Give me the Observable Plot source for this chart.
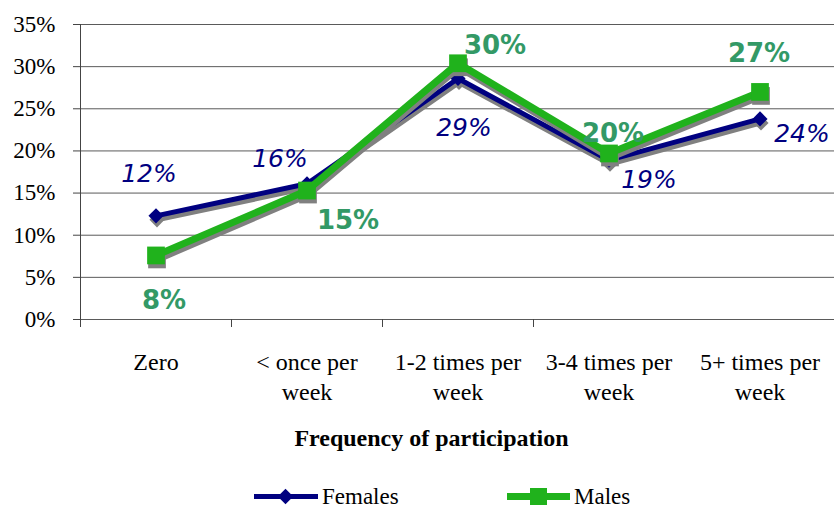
<!DOCTYPE html>
<html>
<head>
<meta charset="utf-8">
<script src="https://cdn.jsdelivr.net/npm/d3@7"></script>
<script src="https://cdn.jsdelivr.net/npm/@observablehq/plot@0.6"></script>
<style>
  body { margin: 0; background: #fff; }
  #chart, #legend { width: 834px; }
  #legend svg { display: block; }
</style>
</head>
<body>
<div id="chart"></div>
<div id="legend"></div>
<script>
// ---- data ----
const categories = ["Zero", "< once per\nweek", "1-2 times per\nweek", "3-4 times per\nweek", "5+ times per\nweek"];
const females = [12.3, 16.1, 28.6, 18.9, 23.8];
const males = [7.6, 15.3, 30.4, 19.7, 27.0];
const femaleLabels = ["12%", "16%", "29%", "19%", "24%"];
const maleLabels = ["8%", "15%", "30%", "20%", "27%"];
const yTicks = [0, 5, 10, 15, 20, 25, 30, 35];
const seriesNames = ["Females", "Males"];
const axisTitle = "Frequency of participation";

// ---- styles / label placement ----
const femaleColor = "#000080";
const maleColor = "#20B21C";
const maleTextColor = "#339966";
const shadow = "#808080";
const femaleLabelOffsets = [[-7, -42], [-27, -25], [6, 50], [40, 20], [42, 15]];
const maleLabelOffsets = [[8, 45], [41, 30], [37, -18], [4, -20], [-1, -38]];

const rows = categories.map((c, i) => ({i, cat: c, female: females[i], male: males[i]}));
const boundaries = categories.slice(0, -1).map((_, i) => i - 0.5);

const labelMarks = [];
rows.forEach((r, i) => {
  labelMarks.push(Plot.text([r], {
    x: "i", y: "female", text: () => femaleLabels[i],
    dx: femaleLabelOffsets[i][0], dy: femaleLabelOffsets[i][1],
    fill: femaleColor, fontStyle: "italic", fontSize: 25, fontFamily: "DejaVu Sans"
  }));
  labelMarks.push(Plot.text([r], {
    x: "i", y: "male", text: () => maleLabels[i],
    dx: maleLabelOffsets[i][0], dy: maleLabelOffsets[i][1],
    fill: maleTextColor, fontWeight: "bold", fontSize: 26, fontFamily: "DejaVu Sans"
  }));
});

const chart = Plot.plot({
  width: 834,
  height: 472,
  marginTop: 24,
  marginBottom: 153,
  marginLeft: 80,
  marginRight: 0,
  style: {fontFamily: "serif", fontSize: "23px", color: "#000", background: "#fff"},
  x: {type: "linear", domain: [-0.5, 4.5], range: [80, 835], label: null},
  y: {domain: [0, 35], label: null},
  marks: [
    Plot.gridY(yTicks, {stroke: "#5a5a5a", strokeOpacity: 1}),
    Plot.axisY(yTicks, {tickSize: 7, tickPadding: 18, tickFormat: d => d + "%", fontSize: 23, label: null, stroke: "#444"}),
    Plot.ruleX([-0.5], {y1: 0, y2: 35, stroke: "#444"}),
    Plot.axisX(boundaries, {tickSize: 8, tickFormat: () => "", label: null, stroke: "#444"}),
    Plot.text(rows, {x: "i", y: () => 0, text: "cat", lineAnchor: "top", dy: 29, lineHeight: 1.25, fontSize: 24, fontFamily: "Times New Roman"}),
    Plot.text([axisTitle], {frameAnchor: "bottom", dx: -26, dy: 126, fontWeight: "bold", fontSize: 24, fontFamily: "Liberation Serif"}),
    // female series
    Plot.line(rows, {x: "i", y: "female", stroke: shadow, strokeWidth: 5, dx: 1, dy: 4, strokeLinejoin: "miter"}),
    Plot.dot(rows, {x: "i", y: "female", symbol: "diamond2", r: 6.8, fill: shadow, dx: 1, dy: 4}),
    Plot.line(rows, {x: "i", y: "female", stroke: femaleColor, strokeWidth: 5, strokeLinejoin: "miter"}),
    Plot.dot(rows, {x: "i", y: "female", symbol: "diamond2", r: 6.8, fill: femaleColor}),
    // male series
    Plot.line(rows, {x: "i", y: "male", stroke: shadow, strokeWidth: 7, dx: 1, dy: 4, strokeLinejoin: "miter"}),
    Plot.dot(rows, {x: "i", y: "male", symbol: "square", r: 10, fill: shadow, dx: 1, dy: 4}),
    Plot.line(rows, {x: "i", y: "male", stroke: maleColor, strokeWidth: 7, strokeLinejoin: "miter"}),
    Plot.dot(rows, {x: "i", y: "male", symbol: "square", r: 10, fill: maleColor}),
    ...labelMarks
  ]
});
document.getElementById("chart").appendChild(chart);

// ---- legend (HTML) ----
const legend = document.getElementById("legend");
legend.style.cssText = "position:relative;height:36px;font:23px 'Liberation Serif', serif;color:#000";
legend.innerHTML = `
  <div style="position:absolute;left:254px;top:22px;width:64px;height:5px;background:${femaleColor}"></div>
  <div style="position:absolute;left:280px;top:19px;width:11px;height:11px;background:${femaleColor};transform:rotate(45deg)"></div>
  <div style="position:absolute;left:322px;top:10px;line-height:30px">${seriesNames[0]}</div>
  <div style="position:absolute;left:507px;top:21px;width:63px;height:7px;background:${maleColor}"></div>
  <div style="position:absolute;left:530px;top:16px;width:17px;height:17px;background:${maleColor}"></div>
  <div style="position:absolute;left:574px;top:10px;line-height:30px">${seriesNames[1]}</div>`;
</script>
</body>
</html>
